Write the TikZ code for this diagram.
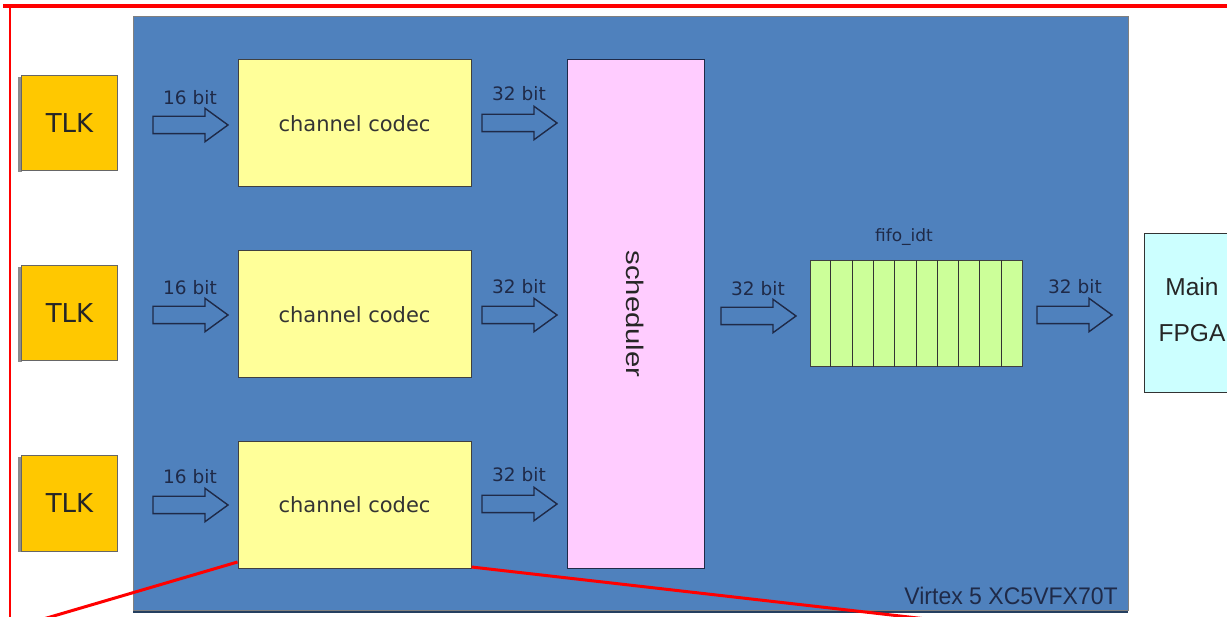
\documentclass[tikz,border=0pt]{standalone}
\usepackage{fontspec}
\setmainfont{DejaVu Sans}
\newfontfamily\arialf{Liberation Sans}
\usetikzlibrary{shapes.arrows,calc}
\definecolor{bgblue}{HTML}{4F81BD}
\definecolor{bgdark}{HTML}{243F60}
\definecolor{navy}{HTML}{1F2A48}
\definecolor{codecyel}{HTML}{FFFF99}
\definecolor{schedpink}{HTML}{FFCCFF}
\definecolor{fifogreen}{HTML}{CCFF99}
\definecolor{fpgacyan}{HTML}{CCFFFF}
\definecolor{tlkorange}{HTML}{FFC800}
\definecolor{frame}{HTML}{FF0000}
\tikzset{
  tlkbox/.style={draw=black!60, line width=1pt, fill=tlkorange, minimum width=96pt, minimum height=95pt, inner sep=0pt,
    font=\fontsize{26}{30}\selectfont, text=black!85},
  codecbox/.style={draw=black!75, line width=1pt, fill=codecyel, minimum width=233pt, minimum height=127pt, inner sep=0pt,
    font=\fontsize{21}{25}\selectfont, text=black!80},
  blockarrow/.style={single arrow, draw=navy, line width=1.4pt, fill=none, minimum height=75pt,
    inner xsep=0pt, inner ysep=8pt, single arrow head extend=8pt, single arrow tip angle=72, outer sep=0pt, anchor=tail},
  bitlabel/.style={font=\fontsize{18.5}{22}\selectfont, text=navy, inner sep=0pt},
}
\begin{document}
\begin{tikzpicture}[x=1pt,y=-1pt]
\useasboundingbox (0,0) rectangle (1227,617);
\fill[white] (0,0) rectangle (1227,617);
% red frame
\draw[frame, line width=4pt] (3,6) -- (1230,6);
\draw[frame, line width=2.5pt] (10,5) -- (10,620);
% blue board
\fill[bgdark] (133,17) rectangle (1128,613);
\fill[bgblue, draw=black!50, line width=1pt] (133,17) rectangle (1128,610);
\node[font=\arialf\fontsize{24}{28}\selectfont, text=navy, anchor=base east, xscale=0.96, inner sep=0pt] (virtex) at (1118,604) {Virtex 5 XC5VFX70T};
% TLK
\fill[black!45] (18,77) rectangle (22,172);
\fill[black!45] (18,267) rectangle (22,362);
\fill[black!45] (18,457) rectangle (22,552);
\node[tlkbox] (tlk1) at (69.5,123.5) {TLK};
\node[tlkbox] (tlk2) at (69.5,313.5) {TLK};
\node[tlkbox] (tlk3) at (69.5,503.5) {TLK};
% codecs
\node[codecbox] (c1) at (354.5,123.5) {channel codec};
\node[codecbox] (c2) at (354.5,314.5) {channel codec};
\node[codecbox] (c3) at (354.5,505) {channel codec};
% scheduler
\node[draw=navy, line width=1pt, fill=schedpink, minimum width=137pt, minimum height=508pt, inner sep=0pt] (sched) at (635.5,314) {};
\node[font=\arialf\fontsize{24}{28}\selectfont, text=black!85, rotate=-90, xscale=1.22] (schedlabel) at (sched.center) {scheduler};
% fifo
\node[draw=black!75, line width=1pt, fill=fifogreen, minimum width=212pt, minimum height=106pt, inner sep=0pt] (fifo) at (916,314) {};
\foreach \i in {1,...,9} {
  \draw[black!80, line width=1pt] ($(fifo.north west)!\i/10!(fifo.north east)$) -- ($(fifo.south west)!\i/10!(fifo.south east)$);
}
\node[font=\fontsize{17}{20}\selectfont, text=navy, inner sep=0pt] (fifolabel) at (904,237) {fifo\_idt};
% main FPGA
\node[draw=black!80, line width=1pt, fill=fpgacyan, minimum width=96pt, minimum height=159pt, inner sep=0pt] (fpga) at (1192,313.5) {};
\node[font=\arialf\fontsize{24.5}{46}\selectfont, text=black!85, align=center, inner sep=0pt] (fpgatext) at (1192,309.5) {Main\\FPGA};
% arrows
\node[blockarrow] (a1) at (153,125) {};
\node[blockarrow] (a2) at (153,315) {};
\node[blockarrow] (a3) at (153,505) {};
\node[bitlabel] (l1) at (190,98) {16 bit};
\node[bitlabel] (l2) at (190,288) {16 bit};
\node[bitlabel] (l3) at (190,477) {16 bit};
\node[blockarrow] (b1) at (482,123) {};
\node[blockarrow] (b2) at (482,315) {};
\node[blockarrow] (b3) at (482,504) {};
\node[bitlabel] (m1) at (519,94) {32 bit};
\node[bitlabel] (m2) at (519,287) {32 bit};
\node[bitlabel] (m3) at (519,475) {32 bit};
\node[blockarrow] (b4) at (721,316) {};
\node[bitlabel] (m4) at (758,289) {32 bit};
\node[blockarrow] (b5) at (1037,315) {};
\node[bitlabel] (m5) at (1075,287) {32 bit};
% red zoom lines
\coordinate (z1) at (40,620);
\coordinate (z2) at (935,620);
\draw[frame, line width=3pt] ($(c3.south west)+(0,-7)$) -- (z1);
\draw[frame, line width=3pt] ($(c3.south east)+(0,-2)$) -- (z2);
\end{tikzpicture}
\end{document}
